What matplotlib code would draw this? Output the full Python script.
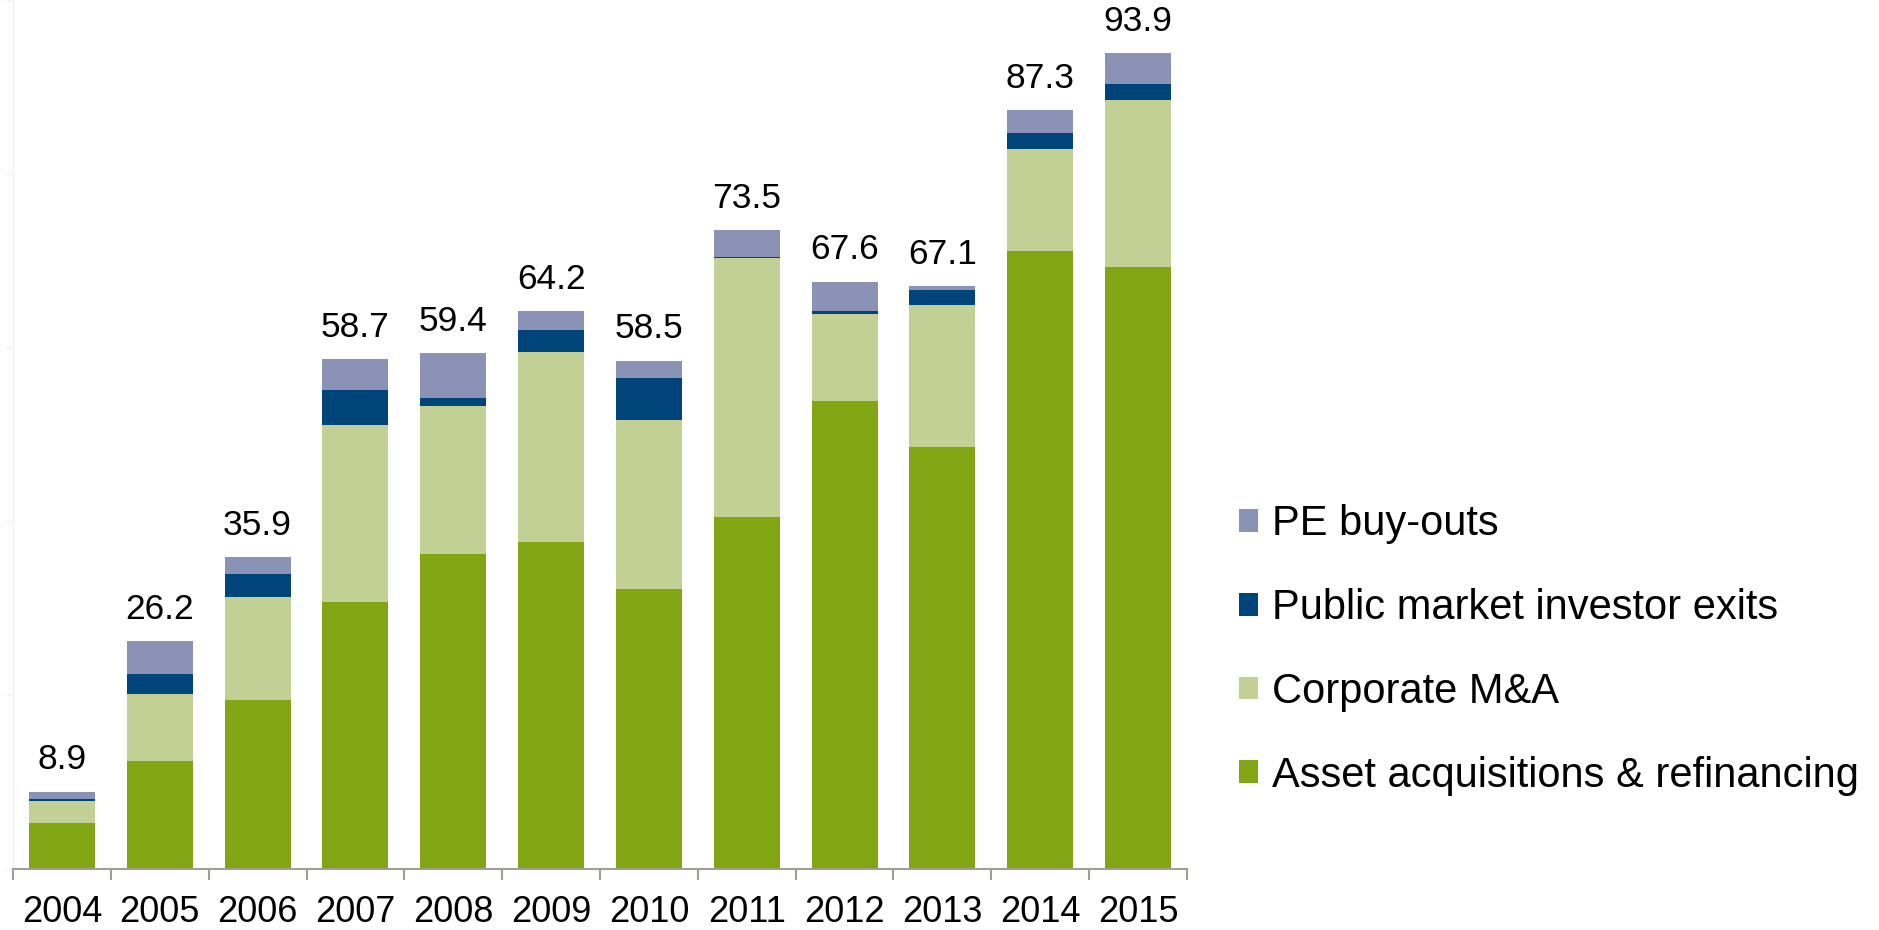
import matplotlib
matplotlib.use("Agg")
import matplotlib.pyplot as plt
from matplotlib.ticker import MultipleLocator, FixedLocator
import numpy as np

years = ["2004", "2005", "2006", "2007", "2008", "2009", "2010", "2011", "2012", "2013", "2014", "2015"]
asset = [5.3, 12.4, 19.5, 30.7, 36.3, 37.6, 32.2, 40.5, 53.8, 48.6, 71.1, 69.3]
corporate = [2.5, 7.7, 11.8, 20.4, 17.0, 21.9, 19.5, 29.8, 10.1, 16.3, 11.8, 19.2]
public = [0.25, 2.3, 2.7, 4.0, 0.9, 2.5, 4.8, 0.15, 0.3, 1.7, 1.8, 1.8]
pe = [0.85, 3.8, 1.9, 3.6, 5.2, 2.2, 2.0, 3.05, 3.4, 0.5, 2.6, 3.6]
totals = [8.9, 26.2, 35.9, 58.7, 59.4, 64.2, 58.5, 73.5, 67.6, 67.1, 87.3, 93.9]

series = [
    ("Asset acquisitions & refinancing", asset, "#82A514"),
    ("Corporate M&A", corporate, "#C2D095"),
    ("Public market investor exits", public, "#00457A"),
    ("PE buy-outs", pe, "#8A93B5"),
]

plt.rcParams['font.family'] = ['Liberation Sans', 'DejaVu Sans']

fig = plt.figure(figsize=(18.79, 9.30), dpi=100)
ax = fig.add_axes([13 / 1879, 1 - 869 / 930, 1174 / 1879, 869 / 930])

x = np.arange(len(years))
bottom = np.zeros(len(years))
handles = []
for name, vals, col in series:
    b = ax.bar(x, vals, width=0.675, bottom=bottom, color=col, label=name,
               edgecolor='none', linewidth=0)
    handles.append(b)
    bottom += np.array(vals)

for xi, t in zip(x, totals):
    ax.annotate(f"{t:.1f}", xy=(xi, t), xytext=(0, 16), textcoords='offset points',
                ha='center', va='baseline', fontsize=25.5, color='black')

ax.set_xlim(-0.5, len(years) - 0.5)
ax.set_ylim(0, 100)

for s in ['top', 'right']:
    ax.spines[s].set_visible(False)
ax.spines['left'].set_color('#F0F0F0')
ax.spines['left'].set_linewidth(1.0)
ax.spines['bottom'].set_color('#A09F90')
ax.spines['bottom'].set_linewidth(1.5)

ax.yaxis.set_major_locator(MultipleLocator(20))
ax.tick_params(axis='y', which='major', length=6, color='#F0F0F0', labelleft=False)

ax.set_xticks(x)
ax.set_xticklabels(years, fontsize=26)
ax.xaxis.set_minor_locator(FixedLocator(np.arange(-0.5, len(years), 1.0)))
ax.tick_params(axis='x', which='major', length=0, pad=19)
ax.tick_params(axis='x', which='minor', length=8, width=1.5, color='#A09F90', direction='out')

leg = fig.legend(handles[::-1], [s[0] for s in series][::-1],
                 loc='center left', bbox_to_anchor=(1201 / 1879, 1 - 650 / 930),
                 frameon=False, handlelength=0.46, handleheight=0.46,
                 handletextpad=0.35, labelspacing=1.05,
                 prop={'family': ['Liberation Sans', 'DejaVu Sans'], 'size': 30})

fig.savefig("out.png", dpi=100)
